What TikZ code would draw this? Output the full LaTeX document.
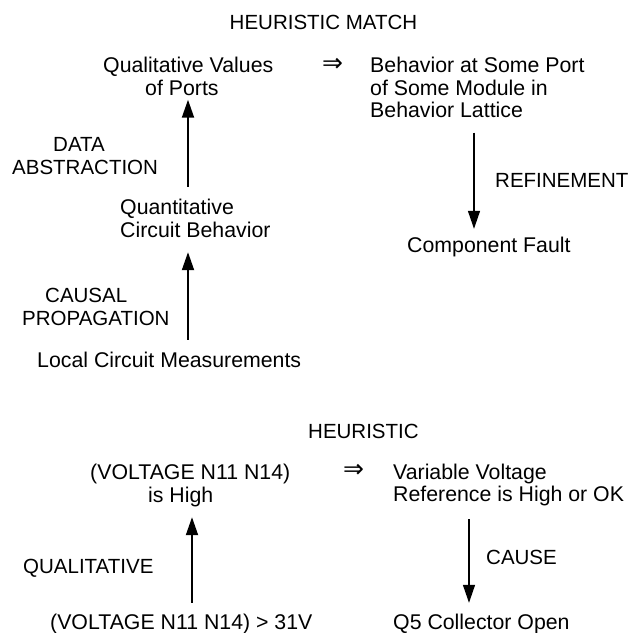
\documentclass[tikz,border=0pt]{standalone}
\usepackage{fontspec}
\setmainfont{Liberation Sans}
\newfontfamily\arrowfont{DejaVu Sans}
\usetikzlibrary{arrows.meta}
% stacked text lines, baseline on the first line
\newcommand{\linesL}[1]{\begin{tabular}[t]{@{}l@{}}#1\end{tabular}}
\begin{document}
\begin{tikzpicture}[x=1pt,y=-1pt,
  every node/.style={inner sep=0pt, font=\fontsize{21.3}{22.5}\selectfont},
  lbl/.style={anchor=base west},
  caps/.style={font=\fontsize{20.5}{22.5}\selectfont},
  imp/.style={anchor=center, font=\arrowfont\fontsize{25}{25}\selectfont},
  arr/.style={line width=1.9pt, -{Triangle[length=18pt,width=12pt]}},
  thinarr/.style={line width=1.4pt, -{Triangle[length=18pt,width=12pt]}}]
\useasboundingbox (0,0) rectangle (632,633);

% general scheme
\node[caps, anchor=base] (hm) at (323.5,29.5) {HEURISTIC MATCH};
\node[lbl] (qv) at (103,72.5) {\linesL{Qualitative Values\\\hspace*{42pt}of Ports}};
\node[imp] (im1) at (332.5,65) {⇒};
\node[lbl] (beh) at (370,72.5) {\linesL{Behavior at Some Port\\of Some Module in\\Behavior Lattice}};
\node[lbl, caps] (da) at (12,151.5) {\linesL{\hspace*{41pt}DATA\\ABSTRACTION}};
\node[lbl] (qcb) at (120,214.5) {\linesL{Quantitative\\Circuit Behavior}};
\node[lbl, caps] (cp) at (22,302.5) {\linesL{\hspace*{23pt}CAUSAL\\PROPAGATION}};
\node[lbl] (lcm) at (37,367.5) {\linesL{Local Circuit Measurements}};
\node[lbl, caps] (rf) at (495,187.5) {\linesL{REFINEMENT}};
\node[lbl] (cf) at (407,252.5) {\linesL{Component Fault}};

\coordinate (ax1) at (188,0);
\coordinate (ax2) at (474,0);
\draw[arr, shorten <=11.75pt, shorten >=-2.25pt] (qcb.north -| ax1) -- (qv.south -| ax1);
\draw[arr, shorten <=11.75pt, shorten >=8.25pt] (lcm.north -| ax1) -- (qcb.south -| ax1);
\draw[thinarr, shorten <=8.25pt, shorten >=7.75pt] (beh.south -| ax2) -- (cf.north -| ax2);

% worked example
\node[lbl, caps] (h2) at (308,438.5) {HEURISTIC};
\node[lbl] (vh) at (90,479.5) {\linesL{(VOLTAGE N11 N14)\\\hspace*{58pt}is High}};
\node[imp] (im2) at (353.5,471) {⇒};
\node[lbl] (vvr) at (393,479) {\linesL{Variable Voltage\\Reference is High or OK}};
\node[lbl, caps] (ql) at (23,573.5) {\linesL{QUALITATIVE}};
\node[lbl, caps] (cs) at (486,564.5) {\linesL{CAUSE}};
\node[lbl] (v31) at (50,629) {\linesL{(VOLTAGE N11 N14) > 31V}};
\node[lbl] (q5) at (393,629) {\linesL{Q5 Collector Open}};

\coordinate (ax3) at (192,0);
\coordinate (ax4) at (469,0);
\draw[arr, shorten <=10.25pt, shorten >=8.25pt] (v31.north -| ax3) -- (vh.south -| ax3);
\draw[thinarr, shorten <=10.75pt, shorten >=10.25pt] (vvr.south -| ax4) -- (q5.north -| ax4);
\end{tikzpicture}
\end{document}
